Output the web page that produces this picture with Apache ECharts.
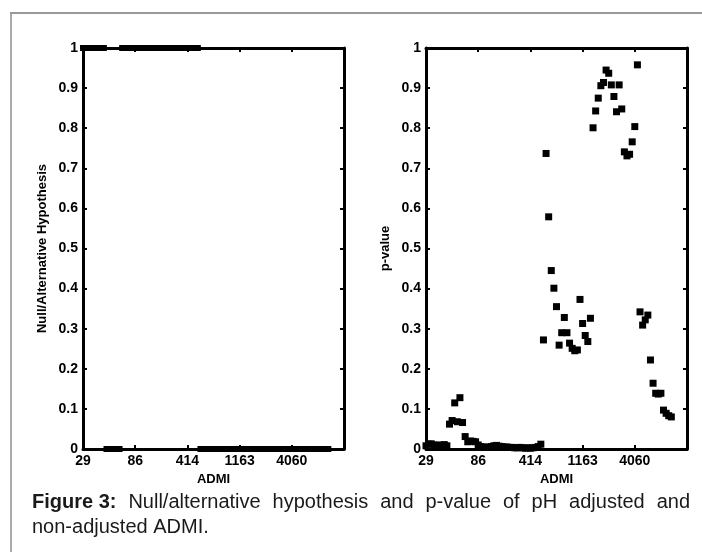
<!DOCTYPE html>
<html>
<head>
<meta charset="utf-8">
<script src="https://cdn.jsdelivr.net/npm/echarts@6/dist/echarts.min.js"></script>
<style>
html,body{margin:0;padding:0;background:#fff;}
#c{width:702px;height:552px;}
</style>
</head>
<body>
<div id="c"></div>
<script>
// x positions are point numbers (0..94); tick labels are ADMI values
const tickValues = [0, 20, 40, 60, 80];
const tickLabels = ['29', '86', '414', '1163', '4060'];

// Right panel: p-values, one per point number 0..94
const pValues = [
  0.008, 0.012, 0.013, 0.010, 0.009, 0.010, 0.008, 0.011, 0.008,
  0.062, 0.071, 0.115, 0.068, 0.128, 0.066,
  0.031, 0.018, 0.020, 0.019, 0.018, 0.010, 0.006, 0.005, 0.004, 0.005,
  0.006, 0.008, 0.009, 0.007, 0.006, 0.005, 0.005, 0.004, 0.004, 0.003,
  0.003, 0.004, 0.003, 0.002, 0.003, 0.002, 0.003, 0.004, 0.006, 0.012,
  0.272, 0.737, 0.579, 0.445, 0.401, 0.355, 0.259, 0.290, 0.328, 0.290,
  0.264, 0.251, 0.245, 0.247, 0.373, 0.313, 0.283, 0.268, 0.326,
  0.801, 0.843, 0.875, 0.906, 0.914, 0.945, 0.937, 0.908, 0.879, 0.841,
  0.908, 0.848, 0.741, 0.731, 0.735, 0.766, 0.804, 0.958,
  0.342, 0.309, 0.322, 0.334, 0.222, 0.164, 0.139, 0.137, 0.139,
  0.097, 0.089, 0.083, 0.080
];

// Left panel: null (0) / alternative (1) hypothesis, one per point number 0..94
const hypothesis = [
  1, 1, 1, 1, 1, 1, 1, 1, 1,
  0, 0, 0, 0, 0, 0,
  1, 1, 1, 1, 1, 1, 1, 1, 1, 1,
  1, 1, 1, 1, 1, 1, 1, 1, 1, 1,
  1, 1, 1, 1, 1, 1, 1, 1, 1, 1,
  0, 0, 0, 0, 0, 0, 0, 0, 0, 0,
  0, 0, 0, 0, 0, 0, 0, 0, 0,
  0, 0, 0, 0, 0, 0, 0, 0, 0, 0,
  0, 0, 0, 0, 0, 0, 0, 0,
  0, 0, 0, 0, 0, 0, 0, 0, 0,
  0, 0, 0, 0
];

const leftYName = 'Null/Alternative Hypothesis';
const rightYName = 'p-value';
const xName = 'ADMI';
const captionBold = 'Figure 3:';
const captionLine1 = 'Null/alternative hypothesis and p-value of pH adjusted and';
const captionLine2 = 'non-adjusted ADMI.';

const FONT = '"Liberation Sans", Arial, sans-serif';

function tickFmt(v) {
  const i = tickValues.indexOf(Math.round(v));
  return i >= 0 ? tickLabels[i] : '';
}

const axisLineStyle = { show: true, onZero: false, lineStyle: { color: '#000', width: 3 } };
const tickStyle = { show: true, inside: true, length: 4, lineStyle: { color: '#000', width: 2 } };
const labelStyle = { color: '#000', fontWeight: 'bold', fontSize: 14, fontFamily: FONT };

function xAxes(g) {
  return [
    {
      gridIndex: g, type: 'value', min: 0, max: 100, interval: 20, position: 'bottom',
      axisLine: axisLineStyle, axisTick: tickStyle, splitLine: { show: false },
      axisLabel: Object.assign({ formatter: tickFmt, margin: 5 }, labelStyle),
      name: xName, nameLocation: 'middle', nameGap: 21,
      nameTextStyle: { color: '#000', fontWeight: 'bold', fontSize: 13, fontFamily: FONT }
    },
    {
      gridIndex: g, type: 'value', min: 0, max: 100, interval: 20, position: 'top',
      axisLine: axisLineStyle, axisTick: tickStyle, splitLine: { show: false },
      axisLabel: { show: false }
    }
  ];
}
function yAxes(g, name) {
  return [
    {
      gridIndex: g, type: 'value', min: 0, max: 1, interval: 0.1, position: 'left',
      axisLine: axisLineStyle, axisTick: tickStyle, splitLine: { show: false },
      axisLabel: Object.assign({ margin: 5 }, labelStyle),
      name: name, nameLocation: 'middle', nameGap: 34, nameRotate: 90,
      nameTextStyle: { color: '#000', fontWeight: 'bold', fontSize: 13, fontFamily: FONT }
    },
    {
      gridIndex: g, type: 'value', min: 0, max: 1, interval: 0.1, position: 'right',
      axisLine: axisLineStyle, axisTick: tickStyle, splitLine: { show: false },
      axisLabel: { show: false }
    }
  ];
}

const leftData = hypothesis.map((v, i) => [i, v]);
const rightData = pValues.map((v, i) => [i, v]);

// justified caption line (word positions computed from measured text widths)
const CAP_SIZE = 20, CAP_LEFT = 32, CAP_RIGHT = 690;
const mctx = document.createElement('canvas').getContext('2d');
function measure(t, bold) {
  mctx.font = (bold ? 'bold ' : '') + CAP_SIZE + 'px "Liberation Sans", Arial, sans-serif';
  return mctx.measureText(t).width;
}
const words = [{ t: captionBold, b: true }].concat(captionLine1.split(' ').map(w => ({ t: w, b: false })));
const widths = words.map(w => measure(w.t, w.b));
const total = widths.reduce((a, b) => a + b, 0);
const gap = (CAP_RIGHT - CAP_LEFT - total) / (words.length - 1);
const captionGraphics = [];
let cx = CAP_LEFT;
words.forEach((w, i) => {
  captionGraphics.push({
    type: 'text', x: cx, y: 492,
    style: { text: w.t, font: (w.b ? 'bold ' : '') + CAP_SIZE + 'px ' + FONT, fill: '#1a1a1a' }
  });
  cx += widths[i] + gap;
});
captionGraphics.push({
  type: 'text', x: CAP_LEFT, y: 517,
  style: { text: captionLine2, font: CAP_SIZE + 'px ' + FONT, fill: '#1a1a1a' }
});

const chart = echarts.init(document.getElementById('c'), null, { renderer: 'canvas' });
chart.setOption({
  backgroundColor: '#fff',
  animation: false,
  grid: [
    { left: 83, top: 48, width: 261, height: 401 },
    { left: 426, top: 48, width: 261, height: 401 }
  ],
  xAxis: [].concat(xAxes(0), xAxes(1)),
  yAxis: [].concat(yAxes(0, leftYName), yAxes(1, rightYName)),
  series: [
    {
      type: 'scatter', xAxisIndex: 0, yAxisIndex: 0, data: leftData,
      symbol: 'rect', symbolSize: 6, itemStyle: { color: '#000', opacity: 1 }, clip: false
    },
    {
      type: 'scatter', xAxisIndex: 2, yAxisIndex: 2, data: rightData,
      symbol: 'rect', symbolSize: 7, itemStyle: { color: '#000', opacity: 1 }, clip: false
    }
  ],
  graphic: [
    { type: 'line', shape: { x1: 11, y1: 13, x2: 11, y2: 552 }, style: { stroke: '#aaa', lineWidth: 2 } },
    { type: 'line', shape: { x1: 10, y1: 13, x2: 702, y2: 13 }, style: { stroke: '#999', lineWidth: 2 } }
  ].concat(captionGraphics)
});
</script>
</body>
</html>
